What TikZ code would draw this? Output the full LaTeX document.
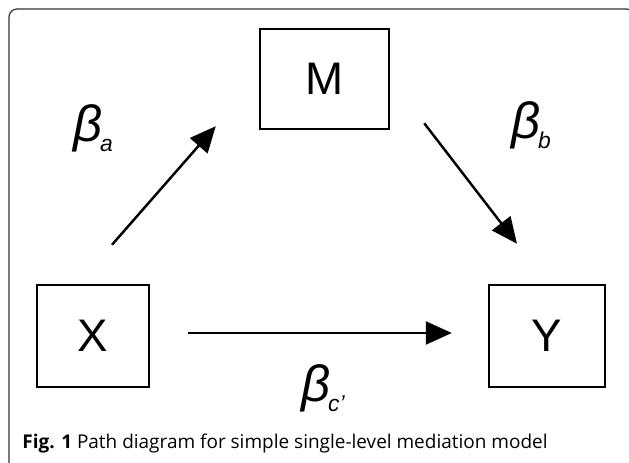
\documentclass[tikz,border=0pt]{standalone}
\usepackage{fontspec}
\setmainfont{Liberation Sans}
\newfontfamily\capfont{Open Sans}
\usetikzlibrary{arrows.meta,calc}

% coefficient label: italic beta with a lowered subscript
\newcommand{\coefsub}[1]{\textit{β}\kern-0.04em\raisebox{-0.2em}{\fontsize{13}{13}\selectfont\textit{#1}}}

\begin{document}
\begin{tikzpicture}[x=0.02cm,y=0.02cm,
  var/.style={draw,line width=1.4pt,minimum height=2.04cm,inner sep=0pt,
    font=\fontsize{26}{28}\selectfont},
  coef/.style={inner sep=0pt,font=\fontsize{29}{31}\selectfont},
  path/.style={line width=1.4pt,-{Triangle[length=0.52cm,width=0.46cm]}}]
  \useasboundingbox (0,0) rectangle (629,463);
  % outer frame, cut by the page on the right and at the bottom
  \draw[line width=0.7pt,black!80,rounded corners=4.5pt] (9,-12) rectangle (634,454);

  \node[var,minimum width=2.24cm] (X) at (93,127) {X};
  \node[var,minimum width=2.58cm,minimum height=2cm] (M) at (324.5,384) {M};
  \node[var,minimum width=2.32cm] (Y) at (547,127) {Y};

  \draw[path] ([shift={(19,39)}]X.north) -- ([shift={(-43,4)}]M.south west);
  \draw[path] ([shift={(34,7)}]M.south east) -- ([shift={(-30,40)}]Y.north);
  \draw[path] ([shift={(38,3)}]X.east) -- ([shift={(-36,3)}]Y.west);

  \node[coef] (ba) at (93,335) {\coefsub{a}};
  \node[coef] (bb) at (531,338) {\coefsub{b}};
  \node[coef] (bc) at (323,75) {\coefsub{c'}};

  \node[anchor=base west,inner sep=0pt,font=\capfont\fontsize{10.8}{13}\selectfont]
    (cap) at (22,14) {\textbf{Fig. 1} Path diagram for simple single-level mediation model};
\end{tikzpicture}
\end{document}
